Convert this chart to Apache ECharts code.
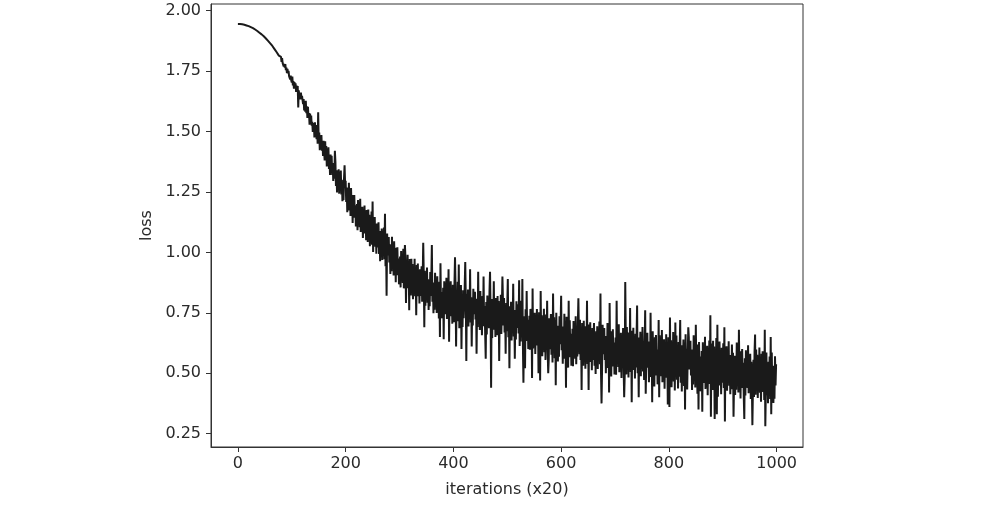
<!DOCTYPE html>
<html>
<head>
<meta charset="utf-8">
<script src="https://cdn.jsdelivr.net/npm/echarts@6/dist/echarts.min.js"></script>
<style>
html,body{margin:0;padding:0;background:#fff;}
#chart{width:987px;height:509px;}
</style>
</head>
<body>
<div id="chart"></div>
<script>
const lossPart1 = [
1.945,1.945,1.945,1.945,1.945,1.944,1.944,1.944,1.944,1.943,1.943,1.942,1.942,1.941,1.941,1.940,1.939,1.939,1.938,1.937,
1.936,1.935,1.934,1.933,1.932,1.931,1.930,1.929,1.928,1.926,1.925,1.924,1.922,1.921,1.919,1.918,1.916,1.915,1.913,1.911,
1.909,1.908,1.906,1.904,1.902,1.900,1.898,1.896,1.894,1.892,1.889,1.887,1.885,1.883,1.880,1.878,1.875,1.873,1.870,1.868,
1.865,1.862,1.860,1.857,1.854,1.852,1.847,1.847,1.841,1.840,1.834,1.835,1.828,1.829,1.821,1.822,1.814,1.815,1.807,1.808,
1.809,1.788,1.804,1.784,1.792,1.769,1.780,1.764,1.779,1.754,1.764,1.742,1.759,1.741,1.751,1.729,1.736,1.716,1.731,1.712,
1.703,1.727,1.691,1.709,1.677,1.704,1.682,1.700,1.664,1.690,1.664,1.688,1.600,1.670,1.638,1.657,1.633,1.661,1.635,1.647,
1.654,1.613,1.634,1.587,1.614,1.582,1.627,1.576,1.604,1.556,1.602,1.560,1.576,1.528,1.574,1.529,1.566,1.524,1.540,1.498,
1.492,1.535,1.475,1.538,1.489,1.520,1.468,1.527,1.450,1.580,1.453,1.496,1.423,1.475,1.438,1.485,1.421,1.460,1.399,1.462,
1.455,1.380,1.460,1.390,1.440,1.355,1.410,1.360,1.435,1.345,1.400,1.320,1.405,1.345,1.400,1.320,1.365,1.295,1.370,1.305,
1.420,1.375,1.275,1.336,1.248,1.340,1.282,1.344,1.243,1.329,1.259,1.339,1.239,1.300,1.212,1.280,1.216,1.308,1.360,1.281,
1.296,1.208,1.268,1.166,1.239,1.173,1.288,1.179,1.253,1.151,1.266,1.178,1.224,1.122,1.237,1.143,1.237,1.149,1.195,1.107,
1.112,1.200,1.092,1.217,1.132,1.197,1.104,1.222,1.084,1.157,1.101,1.189,1.059,1.161,1.099,1.194,1.078,1.159,1.050,1.175,
1.158,1.043,1.177,1.070,1.156,1.025,1.118,1.044,1.169,1.031,1.210,1.001,1.143,1.052,1.146,1.023,1.100,0.994,1.119,1.020
];
const lossPart2 = [
1.015,1.124,0.993,1.078,0.963,1.088,1.014,1.099,0.968,1.085,0.994,1.103,0.972,1.160,0.942,1.036,0.820,1.078,0.987,1.048,
1.063,0.958,1.033,0.910,1.002,0.922,1.064,0.934,1.025,0.904,1.046,0.940,0.998,0.876,1.019,0.905,1.021,0.917,0.974,0.868,
0.877,0.983,0.855,1.006,0.905,0.984,0.873,1.015,0.851,0.939,1.030,0.980,0.790,0.949,0.875,0.990,0.852,0.949,0.760,0.972,
0.949,0.821,0.973,0.854,0.952,0.806,0.913,0.830,0.973,0.818,0.924,0.740,0.948,0.848,0.954,0.818,0.906,0.788,0.930,0.820,
0.817,0.942,0.796,0.894,1.040,0.909,0.690,0.924,0.779,0.912,0.812,0.937,0.791,0.889,0.761,0.868,0.777,0.919,0.819,0.889,
1.030,0.796,0.875,0.748,0.846,0.763,0.915,0.779,0.876,0.749,0.901,0.792,0.853,0.726,0.878,0.650,0.955,0.775,0.836,0.727,
0.739,0.853,0.640,0.880,0.774,0.859,0.744,0.895,0.724,0.818,0.750,0.930,0.630,0.834,0.757,0.880,0.736,0.840,0.705,0.866,
0.845,0.711,0.873,0.980,0.852,0.610,0.813,0.726,0.878,0.715,0.950,0.686,0.856,0.750,0.865,0.600,0.815,0.691,0.843,0.727,
0.726,0.859,0.960,0.810,0.550,0.828,0.741,0.846,0.693,0.835,0.730,0.930,0.710,0.814,0.610,0.794,0.697,0.849,0.744,0.819,
0.837,0.722,0.808,0.580,0.777,0.691,0.920,0.708,0.813,0.679,0.840,0.725,0.791,0.657,0.819,0.694,0.900,0.712,0.778,0.662,
0.560,0.794,0.660,0.821,0.716,0.801,0.686,0.838,0.920,0.760,0.440,0.807,0.645,0.777,0.700,0.880,0.680,0.784,0.650,0.811,
0.791,0.657,0.819,0.694,0.799,0.550,0.759,0.673,0.824,0.662,0.776,0.900,0.803,0.697,0.811,0.668,0.762,0.580,0.790,0.674
];
const lossPart3 = [
0.671,0.890,0.649,0.759,0.520,0.777,0.686,0.795,0.635,0.784,0.673,0.870,0.652,0.761,0.560,0.739,0.639,0.798,0.687,0.766,
0.785,0.664,0.885,0.613,0.722,0.631,0.800,0.649,0.890,0.618,0.460,0.666,0.736,0.520,0.764,0.633,0.840,0.652,0.721,0.600,
0.619,0.738,0.597,0.766,0.656,0.745,0.480,0.850,0.602,0.701,0.631,0.750,0.579,0.718,0.637,0.766,0.615,0.724,0.500,0.752,
0.733,0.470,0.840,0.625,0.740,0.570,0.696,0.600,0.767,0.587,0.714,0.555,0.743,0.626,0.800,0.593,0.500,0.559,0.727,0.599,
0.598,0.745,0.576,0.691,0.544,0.830,0.615,0.731,0.562,0.720,0.450,0.750,0.581,0.696,0.548,0.674,0.568,0.736,0.620,0.703,
0.820,0.595,0.693,0.539,0.659,0.560,0.746,0.581,0.701,0.440,0.733,0.601,0.677,0.523,0.800,0.566,0.719,0.587,0.663,0.531,
0.552,0.684,0.529,0.716,0.594,0.693,0.560,0.736,0.537,0.647,0.569,0.701,0.810,0.667,0.578,0.721,0.555,0.676,0.430,0.708,
0.685,0.531,0.717,0.574,0.694,0.518,0.649,0.550,0.800,0.538,0.669,0.430,0.701,0.580,0.711,0.546,0.655,0.512,0.687,0.555,
0.554,0.708,0.531,0.652,0.497,0.673,0.573,0.694,0.517,0.682,0.560,0.714,0.537,0.830,0.503,0.375,0.524,0.700,0.578,0.666,
0.687,0.555,0.654,0.500,0.621,0.521,0.708,0.543,0.664,0.420,0.790,0.563,0.640,0.486,0.673,0.528,0.682,0.550,0.627,0.495,
0.516,0.648,0.494,0.800,0.560,0.658,0.526,0.702,0.504,0.614,0.535,0.667,0.480,0.634,0.546,0.687,0.522,0.400,0.489,0.877,
0.656,0.495,0.691,0.541,0.668,0.482,0.621,0.517,0.770,0.505,0.642,0.380,0.676,0.549,0.688,0.513,0.628,0.478,0.663,0.524,
0.523,0.780,0.500,0.627,0.400,0.648,0.544,0.671,0.487,0.660,0.530,0.691,0.507,0.634,0.472,0.608,0.760,0.415,0.550,0.642
];
const lossPart4 = [
0.667,0.523,0.631,0.463,0.595,0.484,0.750,0.508,0.640,0.380,0.673,0.529,0.613,0.445,0.649,0.490,0.658,0.514,0.598,0.454,
0.477,0.720,0.400,0.657,0.525,0.631,0.487,0.679,0.463,0.583,0.496,0.640,0.436,0.604,0.508,0.661,0.481,0.613,0.370,0.649,
0.624,0.360,0.730,0.504,0.636,0.442,0.586,0.478,0.670,0.466,0.608,0.428,0.710,0.512,0.656,0.473,0.593,0.437,0.629,0.485,
0.484,0.720,0.460,0.592,0.424,0.615,0.507,0.639,0.447,0.627,0.350,0.661,0.469,0.601,0.433,0.575,0.690,0.647,0.515,0.611,
0.634,0.490,0.598,0.430,0.562,0.453,0.657,0.477,0.609,0.441,0.700,0.499,0.583,0.415,0.619,0.350,0.629,0.485,0.569,0.425,
0.448,0.592,0.340,0.628,0.496,0.603,0.459,0.651,0.435,0.555,0.469,0.613,0.409,0.577,0.481,0.635,0.455,0.740,0.320,0.623,
0.598,0.430,0.634,0.478,0.610,0.310,0.561,0.453,0.645,0.330,0.700,0.403,0.619,0.487,0.631,0.449,0.569,0.413,0.605,0.461,
0.462,0.624,0.439,0.690,0.300,0.588,0.484,0.611,0.427,0.600,0.471,0.632,0.448,0.575,0.413,0.550,0.434,0.619,0.492,0.584,
0.320,0.468,0.572,0.410,0.537,0.431,0.627,0.454,0.581,0.420,0.680,0.475,0.556,0.395,0.591,0.439,0.600,0.462,0.543,0.404,
0.310,0.562,0.408,0.595,0.474,0.571,0.439,0.615,0.417,0.527,0.448,0.580,0.393,0.547,0.459,0.285,0.434,0.555,0.401,0.588,
0.660,0.411,0.598,0.455,0.576,0.397,0.529,0.430,0.606,0.419,0.547,0.382,0.580,0.459,0.591,0.422,0.532,0.389,0.680,0.280,
0.431,0.585,0.409,0.530,0.376,0.547,0.448,0.569,0.393,0.650,0.330,0.586,0.410,0.531,0.377,0.504,0.394,0.570,0.449,0.537
];

const xTicks = [0, 200, 400, 600, 800, 1000];
const yTicks = [0.25, 0.50, 0.75, 1.00, 1.25, 1.50, 1.75, 2.00];
const xTitle = 'iterations (x20)';
const yTitle = 'loss';

const loss = lossPart1.concat(lossPart2, lossPart3, lossPart4);
const seriesData = loss.map((v, i) => [i, v]);

const chart = echarts.init(document.getElementById('chart'), null, {renderer: 'canvas'});
const txt = '#2a2a2a';
const frame = '#333333';
const font = 'DejaVu Sans';
chart.setOption({
  animation: false,
  backgroundColor: '#ffffff',
  grid: {left: 211, right: 184, top: 4, bottom: 62, show: true, borderColor: frame, borderWidth: 1, backgroundColor: 'transparent'},
  xAxis: {
    type: 'value', min: -49.95, max: 1048.95,
    name: xTitle, nameLocation: 'middle', nameGap: 35,
    nameTextStyle: {fontFamily: font, fontSize: 16, color: txt},
    axisLine: {show: true, onZero: false, lineStyle: {color: frame, width: 1}},
    axisTick: {show: true, customValues: xTicks, length: 5, lineStyle: {color: frame}},
    axisLabel: {customValues: xTicks, margin: 9, fontFamily: font, fontSize: 16, color: txt,
      formatter: v => String(Math.round(v))},
    splitLine: {show: false}
  },
  yAxis: {
    type: 'value', min: 0.1945, max: 2.0277,
    name: yTitle, nameLocation: 'middle', nameGap: 56, nameRotate: 90,
    nameTextStyle: {fontFamily: font, fontSize: 16, color: txt},
    axisLine: {show: true, onZero: false, lineStyle: {color: frame, width: 1}},
    axisTick: {show: true, customValues: yTicks, length: 5, lineStyle: {color: frame}},
    axisLabel: {customValues: yTicks, margin: 10, fontFamily: font, fontSize: 16, color: txt,
      formatter: v => Number(v).toFixed(2)},
    splitLine: {show: false}
  },
  series: [{
    type: 'line', data: seriesData, showSymbol: false, symbol: 'none', sampling: false,
    lineStyle: {color: '#1a1a1a', width: 2}, z: 3
  }]
});
</script>
</body>
</html>
